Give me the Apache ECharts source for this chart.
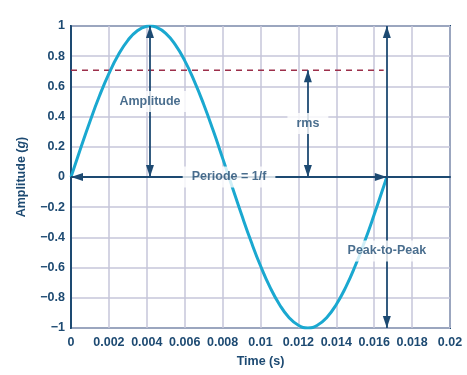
<!DOCTYPE html>
<html>
<head>
<meta charset="utf-8">
<script src="https://cdn.jsdelivr.net/npm/echarts@6/dist/echarts.min.js"></script>
<style>html,body{margin:0;padding:0;background:#fff}#c{width:467px;height:375px}</style>
</head>
<body>
<div id="c"></div>
<script>
// Time samples (s) and amplitude (g)
const timeS = [0, 0.0005, 0.001, 0.0015, 0.002, 0.0025, 0.003, 0.0035, 0.004, 0.004167, 0.0045, 0.005, 0.0055, 0.006, 0.0065, 0.007, 0.0075, 0.008, 0.0085, 0.009, 0.0095, 0.01, 0.0105, 0.011, 0.0115, 0.012, 0.0125, 0.013, 0.0135, 0.014, 0.0145, 0.015, 0.0155, 0.016, 0.0165, 0.016667];
const amplitudeG = [0, 0.187, 0.368, 0.536, 0.685, 0.809, 0.905, 0.969, 0.998, 1, 0.992, 0.951, 0.876, 0.771, 0.637, 0.482, 0.309, 0.125, -0.063, -0.249, -0.426, -0.588, -0.729, -0.844, -0.930, -0.982, -1, -0.982, -0.930, -0.844, -0.729, -0.588, -0.426, -0.249, -0.063, 0];
const rmsLevel = 0.707;
const rmsLineEnd = 0.0165;
const peakTime = 0.004167;
const troughTime = 0.0125;
const periodS = 0.016667;
const peakAmp = 1;
const troughAmp = -1;
const annotationNames = ['Amplitude', 'rms', 'Periode = 1/f', 'Peak-to-Peak'];
const annotationAnchors = [[0.004167, 0.5], [0.0125, 0.355], [0.00834, 0], [0.016667, -0.49]];
const xTicks = {min: 0, max: 0.02, step: 0.002};
const yTicks = {min: -1, max: 1, step: 0.2};

const navy = '#1d4a72';
const font = "'Liberation Sans', Arial, Helvetica, sans-serif";
const arrowHead = 'path://M0,12L4,24L-4,24ZM-12,0L-12,0M12,0L12,0';

const chart = echarts.init(document.getElementById('c'), null, {renderer: 'canvas'});
const arrowLines = [
  [[peakTime, 0], [peakTime, peakAmp]],
  [[troughTime, 0], [troughTime, rmsLevel]],
  [[0, 0], [periodS, 0]],
  [[periodS, troughAmp], [periodS, peakAmp]]
].map(p => [{coord: p[0]}, {coord: p[1]}]);

chart.setOption({
  animation: false,
  grid: {left: 71, right: 17, top: 26, bottom: 47, show: true, borderColor: navy, borderWidth: 2, backgroundColor: 'transparent'},
  xAxis: {
    type: 'value', min: xTicks.min, max: xTicks.max, interval: xTicks.step,
    name: 'Time (s)', nameLocation: 'middle', nameGap: 27,
    nameTextStyle: {color: navy, fontFamily: font, fontWeight: 'bold', fontSize: 12.5},
    axisLine: {show: true, lineStyle: {color: navy, width: 2}},
    axisTick: {show: false},
    axisLabel: {color: navy, fontFamily: font, fontWeight: 'bold', fontSize: 12.5, margin: 8,
      formatter: v => String(parseFloat(v.toFixed(3)))},
    splitLine: {show: true, lineStyle: {color: '#c6c6da', width: 1.5}}
  },
  yAxis: {
    type: 'value', min: yTicks.min, max: yTicks.max, interval: yTicks.step,
    name: '{b|Amplitude (}{i|g}{b|)}', nameLocation: 'middle', nameGap: 43,
    nameTextStyle: {color: navy, fontFamily: font, fontWeight: 'bold', fontSize: 12.5,
      rich: {b: {color: navy, fontFamily: font, fontWeight: 'bold', fontSize: 12.5},
             i: {color: navy, fontFamily: font, fontWeight: 'bold', fontStyle: 'italic', fontSize: 12.5}}},
    axisLine: {show: true, lineStyle: {color: navy, width: 2}},
    axisTick: {show: false},
    axisLabel: {color: navy, fontFamily: font, fontWeight: 'bold', fontSize: 12.5, margin: 6,
      formatter: v => { const s = Math.abs(v).toFixed(1).replace(/\.0$/, ''); return (v < -1e-9 ? '\u2212' : '') + s; }},
    splitLine: {show: true, lineStyle: {color: '#c6c6da', width: 1.5}}
  },
  series: [
    {
      type: 'line', data: [[0, rmsLevel], [rmsLineEnd, rmsLevel]], symbol: 'none', z: 3,
      lineStyle: {color: '#9c2f4a', width: 1.6, type: [6, 5]}
    },
    {
      type: 'line', data: timeS.map((t, i) => [t, amplitudeG[i]]), symbol: 'none', smooth: true, z: 4,
      lineStyle: {color: '#1aa8d0', width: 3}
    },
    {
      type: 'line', data: [], z: 6,
      markLine: {
        silent: true, z: 6,
        symbol: [arrowHead, arrowHead], symbolSize: 24,
        lineStyle: {color: navy, width: 1.8, type: 'solid'},
        itemStyle: {color: navy},
        label: {show: false},
        data: arrowLines
      }
    },
    {
      type: 'scatter', zlevel: 1, z: 10, symbolSize: 0,
      data: annotationAnchors.map((a, i) => ({value: a, name: annotationNames[i]})),
      label: {show: true, position: 'inside', formatter: p => p.name, color: navy, fontFamily: font,
        fontWeight: 'bold', fontSize: 12.5, backgroundColor: '#fff', padding: [4, 9]}
    }
  ]
});
</script>
</body>
</html>
